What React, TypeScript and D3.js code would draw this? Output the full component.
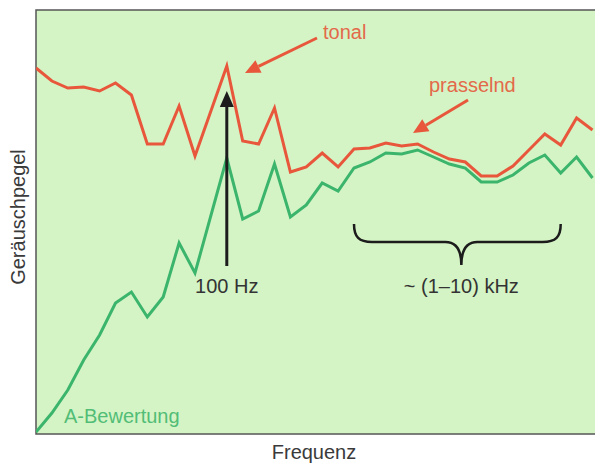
import React, { useEffect, useRef } from 'react';
import * as d3 from 'd3';

// frequency steps (index positions along the axis)
const steps = [0, 1, 2, 3, 4, 5, 6, 7, 8, 9, 10, 12, 13, 14, 15, 16, 17, 18, 19, 20, 21, 22, 23, 24, 25, 26, 27, 28, 29, 30, 31, 32, 33, 34, 35];
// noise level, arbitrary units
const tonal = [366, 353, 346, 347, 343, 351, 339, 290, 290, 328, 278, 368, 293, 290, 326, 262, 267, 281, 267, 285, 286, 291, 288, 290, 282, 275, 272, 258, 258, 268, 284, 300, 289, 316, 304];
const aWeighted = [2, 21, 44, 74, 99, 131, 142, 117, 137, 191, 161, 276, 215, 223, 270, 217, 229, 251, 243, 266, 272, 281, 280, 284, 277, 270, 266, 252, 252, 259, 271, 279, 261, 277, 256];

const hzMark = 12; // 100 Hz step
const khzRange = [20, 33]; // ~ (1-10) kHz

const W = 595;
const H = 464;
const left = 36;
const top = 10;
const bottom = 434;

const RED = '#e8573b';
const GREEN = '#3cb56c';
const FONT = "'Liberation Sans', Arial, sans-serif";

export default function App() {
  const ref = useRef<SVGSVGElement>(null);

  useEffect(() => {
    const svg = d3.select(ref.current);
    svg.selectAll('*').remove();

    const x = d3.scaleLinear().domain([0, 35]).range([left, 592.5]);
    const y = d3.scaleLinear().domain([0, 424]).range([bottom, top]);

    svg.append('defs').append('clipPath').attr('id', 'plot')
      .append('rect').attr('x', left).attr('y', top).attr('width', W - left).attr('height', bottom - top);

    svg.append('rect')
      .attr('x', left).attr('y', top).attr('width', W - left).attr('height', bottom - top)
      .attr('fill', '#d4f4c5');

    // frame
    svg.append('path')
      .attr('d', `M${W},${top}H${left}V${bottom}H${W}`)
      .attr('fill', 'none').attr('stroke', '#555').attr('stroke-width', 1.5);

    const g = svg.append('g').attr('clip-path', 'url(#plot)');
    const line = d3.line<number>().x((_, i) => x(steps[i])).y((d) => y(d));

    g.append('path').datum(aWeighted).attr('d', line)
      .attr('fill', 'none').attr('stroke', GREEN).attr('stroke-width', 3).attr('stroke-linejoin', 'miter');
    g.append('path').datum(tonal).attr('d', line)
      .attr('fill', 'none').attr('stroke', RED).attr('stroke-width', 3).attr('stroke-linejoin', 'miter');

    // arrow helper: filled triangle head at (x2, y2)
    const arrow = (x1: number, y1: number, x2: number, y2: number, color: string, hl = 15, hw = 7) => {
      const a = Math.atan2(y2 - y1, x2 - x1);
      const bx = x2 - hl * Math.cos(a);
      const by = y2 - hl * Math.sin(a);
      svg.append('line')
        .attr('x1', x1).attr('y1', y1).attr('x2', bx).attr('y2', by)
        .attr('stroke', color).attr('stroke-width', 3);
      const px = -Math.sin(a) * hw;
      const py = Math.cos(a) * hw;
      svg.append('path')
        .attr('d', `M${x2},${y2}L${bx + px},${by + py}L${bx - px},${by - py}Z`)
        .attr('fill', color);
    };

    // 100 Hz arrow
    const hx = x(hzMark);
    arrow(hx, 266, hx, 91, '#1c1c1c', 16, 7);
    arrow(317, 38, 245, 73, RED, 15, 7);
    arrow(468, 100, 413, 133, RED, 15, 7);

    // brace over ~1-10 kHz
    const b0 = x(khzRange[0]);
    const b1 = x(khzRange[1]);
    const bm = (b0 + b1) / 2 + 4;
    svg.append('path')
      .attr('d', `M${b0},224 C${b0},237 ${b0 + 5},242 ${b0 + 18},242 L${bm - 16},242 C${bm - 5},242 ${bm},250 ${bm},265 C${bm},250 ${bm + 5},242 ${bm + 16},242 L${b1 - 18},242 C${b1 - 5},242 ${b1},237 ${b1},224`)
      .attr('fill', 'none').attr('stroke', '#1c1c1c').attr('stroke-width', 2.5);

    const text = (s: string, tx: number, ty: number, color: string, anchor = 'start', size = 20) =>
      svg.append('text').attr('x', tx).attr('y', ty).attr('fill', color)
        .attr('font-family', FONT).attr('font-size', size).attr('text-anchor', anchor).text(s);

    text('tonal', 323, 39, '#e3694a');
    text('prasselnd', 429, 92, '#e3694a');
    text('100 Hz', hx, 293, '#333', 'middle');
    text('~ (1–10) kHz', bm, 293, '#333', 'middle');
    text('A-Bewertung', 64, 423, '#52bd76');
    text('Frequenz', 314, 459, '#3a3a3a', 'middle');
    svg.append('text')
      .attr('transform', 'translate(25,217) rotate(-90)')
      .attr('text-anchor', 'middle').attr('fill', '#3a3a3a')
      .attr('font-family', FONT).attr('font-size', 20)
      .text('Geräuschpegel');
  }, []);

  return (
    <svg ref={ref} width={W} height={H} style={{ position: 'absolute', left: 0, top: 0, background: '#fff' }} />
  );
}
